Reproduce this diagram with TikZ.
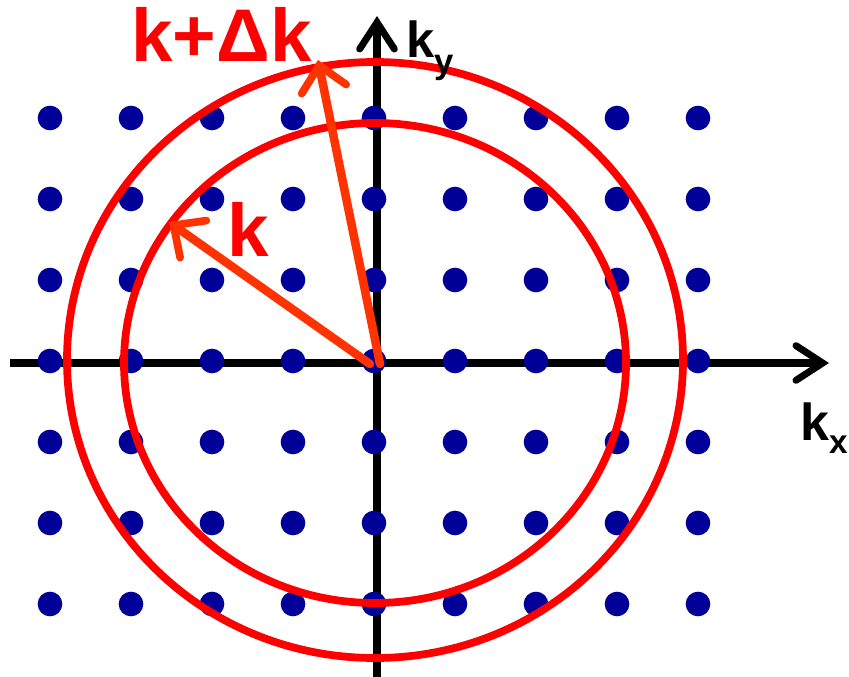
\documentclass[tikz,border=0pt]{standalone}
\usepackage{fontspec}
\setmainfont{Liberation Sans}
\usepackage{tikz}
\usetikzlibrary{arrows.meta,positioning,calc}
\definecolor{dotblue}{RGB}{0,0,153}
\definecolor{vecred}{RGB}{255,51,0}

\begin{document}
\begin{tikzpicture}[x=0.75pt,y=-0.75pt,
 ax/.style={line width=5.6pt,-{Straight Barb[length=20pt,width=26pt,line width=5.2pt,line cap=round]}},
 dot/.style={circle,fill=dotblue,inner sep=0pt,minimum size=18.5pt},
 ring/.style={draw=red,line width=5.8pt},
 vec/.style={draw=vecred,line width=6.4pt,line cap=round,-{Straight Barb[length=18pt,width=34pt,line width=5.8pt,line cap=round]}},
 lbl/.style={inner sep=0pt,anchor=base west,font=\bfseries\fontsize{56}{60}\selectfont}]
 \useasboundingbox (0,0) rectangle (849,677);
 % axes
 \coordinate (O) at (377,363);
 \coordinate (xl) at (10,363);
 \coordinate (xr) at (829,363);
 \coordinate (yb) at (377,677);
 \coordinate (yt) at (377,16);
 \draw[ax] (xl)--(xr);
 \draw[ax] (yb)--(yt);
 % lattice
 \foreach \i in {0,...,8}
  \foreach \j in {0,...,6}
   \node[dot] (d-\i-\j) at (50+81*\i,118+81*\j) {};
 % shells
 \draw[ring] (375,363) ellipse [x radius=251,y radius=240];
 \draw[ring] (375,360) ellipse [x radius=308,y radius=298];
 % wave vectors
 \coordinate (k0) at (370,364);
 \coordinate (k1) at (380,364);
 \coordinate (kend) at (169,222);
 \coordinate (dkend) at (318,60);
 \draw[vec] (k0)--(kend);
 \draw[vec] (k1)--(dkend);
 \node[lbl,text=red] (kdk) at (131,62) {k+Δk};
 \node[lbl,text=red] (k) at (227,257) {k};
 \node[lbl,font=\bfseries\fontsize{38}{40}\selectfont] (ky) at (406,58) {k\raisebox{-0.3em}{\fontsize{26}{28}\selectfont y}};
 \node[lbl,font=\bfseries\fontsize{39}{42}\selectfont] (kx) at (800,440) {k\raisebox{-0.25em}{\fontsize{25}{28}\selectfont x}};
\end{tikzpicture}
\end{document}
